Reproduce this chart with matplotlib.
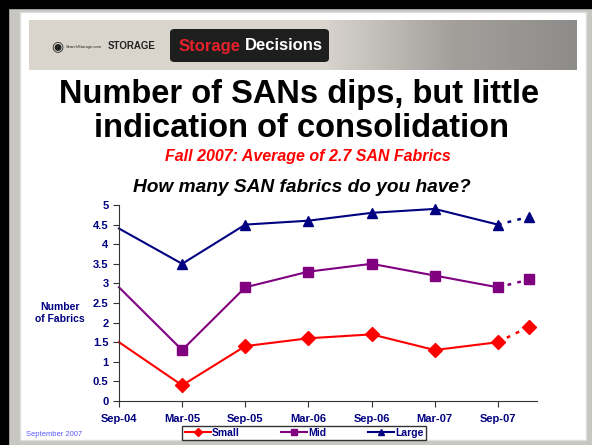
import matplotlib.pyplot as plt
from matplotlib.patches import Rectangle, FancyBboxPatch
from matplotlib.colors import LinearSegmentedColormap
from matplotlib.lines import Line2D
import numpy as np

plt.rcParams['font.family'] = ['Liberation Sans', 'DejaVu Sans']

periods = ['Sep-04', 'Mar-05', 'Sep-05', 'Mar-06', 'Sep-06', 'Mar-07', 'Sep-07']
small = [1.5, 0.4, 1.4, 1.6, 1.7, 1.3, 1.5]
mid = [2.9, 1.3, 2.9, 3.3, 3.5, 3.2, 2.9]
large = [4.4, 3.5, 4.5, 4.6, 4.8, 4.9, 4.5]
# projected values shown as dotted extension
small_proj = 1.9
mid_proj = 3.1
large_proj = 4.7

navy = '#000080'
fig = plt.figure(figsize=(5.92, 4.45), dpi=100)
fig.patch.set_facecolor('#c8c6c2')

# slide frame (kept behind the axes)
fig.add_artist(Rectangle((0, 1 - 8 / 445), 1, 8 / 445, transform=fig.transFigure, color='black', zorder=-10))
fig.add_artist(Rectangle((0, 0), 8 / 592, 1, transform=fig.transFigure, color='black', zorder=-10))
fig.add_artist(Rectangle((20 / 592, 5 / 445), 566 / 592, 428 / 445, transform=fig.transFigure,
                         facecolor='white', edgecolor='#dddddd', zorder=-9))

# header banner
fig.add_artist(Rectangle((29 / 592, 1 - 70 / 445), 300 / 592, 50 / 445, transform=fig.transFigure,
                         facecolor='#d9d5cd', edgecolor='none', zorder=-8))
grad = np.linspace(0, 1, 200).reshape(1, -1)
bax = fig.add_axes([329 / 592, 1 - 70 / 445, 248 / 592, 50 / 445])
bax.imshow(grad, aspect='auto', cmap=LinearSegmentedColormap.from_list(
    'b', ['#d6d2cb', '#a3a09c', '#8e8c8a']))
bax.axis('off')
fig.add_artist(FancyBboxPatch((170 / 592, 1 - 62 / 445), 159 / 592, 33 / 445,
                              boxstyle='round,pad=0,rounding_size=0.008', transform=fig.transFigure,
                              facecolor='#1e1e1e', edgecolor='none', zorder=2))
fig.text(179 / 592, 1 - 46 / 445, 'Storage', color='#e8212b', fontsize=12, fontweight='bold',
         va='center', zorder=3)
fig.text(245 / 592, 1 - 46 / 445, 'Decisions', color='white', fontsize=12, fontweight='bold',
         va='center', zorder=3)
fig.text(156 / 592, 1 - 46 / 445, 'STORAGE', color='#222222', fontsize=7, fontweight='bold',
         va='center', ha='right')
fig.text(66 / 592, 1 - 47 / 445, 'SearchStorage.com', color='#222222', fontsize=3, va='center')
fig.text(57 / 592, 1 - 46 / 445, '\u25c9', color='#222222', fontsize=10, va='center', ha='center',
         family='DejaVu Sans')

# titles
fig.text(0.505, 1 - 94 / 445, 'Number of SANs dips, but little', fontsize=23.5, fontweight='bold',
         ha='center', va='center')
fig.text(0.51, 1 - 128 / 445, 'indication of consolidation', fontsize=23.5, fontweight='bold',
         ha='center', va='center')
fig.text(0.52, 1 - 156 / 445, 'Fall 2007: Average of 2.7 SAN Fabrics', fontsize=11.5, fontweight='bold',
         style='italic', color='red', ha='center', va='center')
fig.text(0.51, 1 - 187 / 445, 'How many SAN fabrics do you have?', fontsize=13.8, fontweight='bold',
         style='italic', ha='center', va='center')

ax = fig.add_axes([119 / 592, 1 - 401 / 445, 418 / 592, 196 / 445])
ax.set_facecolor('none')
x = np.arange(len(periods))
series = [(small, small_proj, 'red', 'D', 'Small'),
          (mid, mid_proj, 'purple', 's', 'Mid'),
          (large, large_proj, navy, '^', 'Large')]
for vals, proj, col, mk, name in series:
    ax.plot(x, vals, color=col, lw=1.5, marker=mk, markersize=7, markevery=list(range(1, len(x))),
            clip_on=False, label=name)
    ax.plot([x[-1], x[-1] + 0.5], [vals[-1], proj], color=col, lw=1.8, ls=(0, (1.5, 2.5)))
    ax.plot([x[-1] + 0.5], [proj], color=col, marker=mk, markersize=7, clip_on=False)

ax.set_xlim(0, 6.62)
ax.set_ylim(0, 5)
ax.set_yticks(np.arange(0, 5.01, 0.5))
ax.set_yticklabels(['0', '0.5', '1', '1.5', '2', '2.5', '3', '3.5', '4', '4.5', '5'])
ax.set_xticks(x)
ax.set_xticklabels(periods)
for s in ['top', 'right']:
    ax.spines[s].set_visible(False)
for s in ['left', 'bottom']:
    ax.spines[s].set_color('#333333')
ax.tick_params(colors='#333333', labelcolor=navy, labelsize=8, length=4)
for lab in ax.get_xticklabels() + ax.get_yticklabels():
    lab.set_fontweight('bold')
ax.tick_params(axis='x', pad=5)

fig.text(60 / 592, 1 - 313 / 445, 'Number\nof Fabrics', color=navy, fontsize=7.5, fontweight='bold',
         ha='center', va='center', linespacing=1.3)
fig.text(26 / 592, 1 - 434 / 445, 'September 2007', color='#5b5bff', fontsize=5.5, va='center')

handles = [Line2D([], [], color=c, marker=m, markersize=4, lw=1.5) for _, _, c, m, _ in series]
leg = fig.legend(handles, ['Small', 'Mid', 'Large'], ncol=3, loc='center',
                 bbox_to_anchor=(304 / 592, 1 - 433 / 445), frameon=True,
                 fancybox=False, edgecolor='black', handlelength=2.5, handletextpad=0.1,
                 columnspacing=4, borderpad=0.2, prop={'weight': 'bold', 'size': 7.5})
for t in leg.get_texts():
    t.set_color(navy)
leg.get_frame().set_linewidth(1)

fig.savefig('out.png', dpi=100, facecolor=fig.get_facecolor())
